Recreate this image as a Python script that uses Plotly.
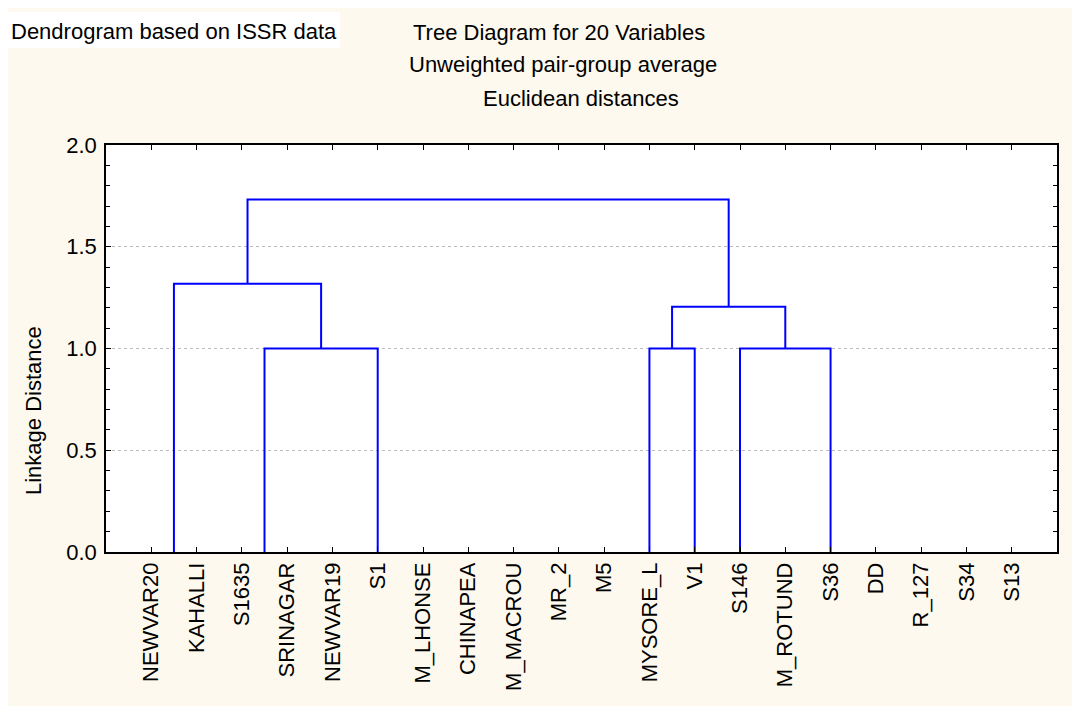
import plotly.graph_objects as go

# ---- data ----
labels = ["NEWVAR20", "KAHALLI", "S1635", "SRINAGAR", "NEWVAR19", "S1",
          "M_LHONSE", "CHINAPEA", "M_MACROU", "MR_2", "M5", "MYSORE_L",
          "V1", "S146", "M_ROTUND", "S36", "DD", "R_127", "S34", "S13"]
# dendrogram leaf stems (as drawn on the category axis)
leaf_pos = [1.5, 3.5, 6.0, 12.0, 13.0, 14.0, 16.0]
# merges: (child_a, child_b, linkage distance); ids >= 7 are merged nodes
merges = [(1, 2, 1.0),
          (0, 7, 1.318),
          (3, 4, 1.0),
          (5, 6, 1.0),
          (9, 10, 1.205),
          (8, 11, 1.732)]
y_ticks = [0.0, 0.5, 1.0, 1.5, 2.0]

# ---- build dendrogram segments ----
node_x = list(leaf_pos)
node_h = [0.0] * len(leaf_pos)
xs, ys = [], []
for a, b, h in merges:
    xs += [node_x[a], node_x[a], node_x[b], node_x[b], None]
    ys += [node_h[a], h, h, node_h[b], None]
    node_x.append((node_x[a] + node_x[b]) / 2)
    node_h.append(h)

fig = go.Figure()
fig.add_trace(go.Scatter(x=xs, y=ys, mode="lines",
                         line=dict(color="#0000FF", width=2),
                         hoverinfo="skip", showlegend=False))

OFF = 8  # page body margin
W, H = 1080 - OFF, 706 - OFF
L, R, T, B = 106 - OFF, 1057 - OFF, 145 - OFF, 552 - OFF
def px(x):
    return (x - OFF - L) / (R - L)
def py(y):
    return (B - (y - OFF)) / (B - T)

font = dict(family="Liberation Sans, Arial, sans-serif", size=22, color="black")

fig.update_layout(
    width=W, height=H,
    margin=dict(l=L, r=W - R, t=T, b=H - B, pad=0),
    paper_bgcolor="#FDF9EE",
    plot_bgcolor="white",
    font=font,
    showlegend=False,
    xaxis=dict(
        range=[0, len(labels) + 1],
        tickmode="array",
        tickvals=list(range(1, len(labels) + 1)),
        ticktext=labels,
        tickangle=-90,
        ticks="inside", ticklen=5, tickwidth=1.2, tickcolor="black",
        showline=True, linecolor="black", linewidth=1.5, mirror="ticks",
        showgrid=False, zeroline=False,
        tickfont=font,
    ),
    yaxis=dict(
        range=[0, 2],
        tickmode="array",
        tickvals=y_ticks,
        ticktext=[f"{v:.1f}" for v in y_ticks],
        ticks="inside", ticklen=5, tickwidth=1.2, tickcolor="black",
        minor=dict(dtick=0.1, ticks="inside", ticklen=4, tickcolor="black", showgrid=False),
        showline=True, linecolor="black", linewidth=1.5, mirror="ticks",
        showgrid=True, gridcolor="#bdbdbd", griddash="dot", gridwidth=1,
        zeroline=False, ticklabelstandoff=3,
        tickfont=font,
    ),
    shapes=[
        dict(type="rect", xref="paper", yref="paper", layer="below",
             x0=px(7), x1=px(340), y0=py(48), y1=py(12),
             fillcolor="white", line=dict(width=0)),
    ],
    annotations=[
        dict(text="Dendrogram based on ISSR data", xref="paper", yref="paper",
             x=px(174), y=py(31), showarrow=False, font=font,
             xanchor="center", yanchor="middle"),
        dict(text="Tree Diagram for 20 Variables", xref="paper", yref="paper",
             x=px(559), y=py(32), showarrow=False, font=font,
             xanchor="center", yanchor="middle"),
        dict(text="Unweighted pair-group average", xref="paper", yref="paper",
             x=px(563), y=py(65), showarrow=False, font=font,
             xanchor="center", yanchor="middle"),
        dict(text="Euclidean distances", xref="paper", yref="paper",
             x=px(581), y=py(98), showarrow=False, font=font,
             xanchor="center", yanchor="middle"),
        dict(text="Linkage Distance", xref="paper", yref="paper",
             x=px(33), y=py(411), showarrow=False, font=font, textangle=-90,
             xanchor="center", yanchor="middle"),
    ],
)

fig.write_html("out.html")
